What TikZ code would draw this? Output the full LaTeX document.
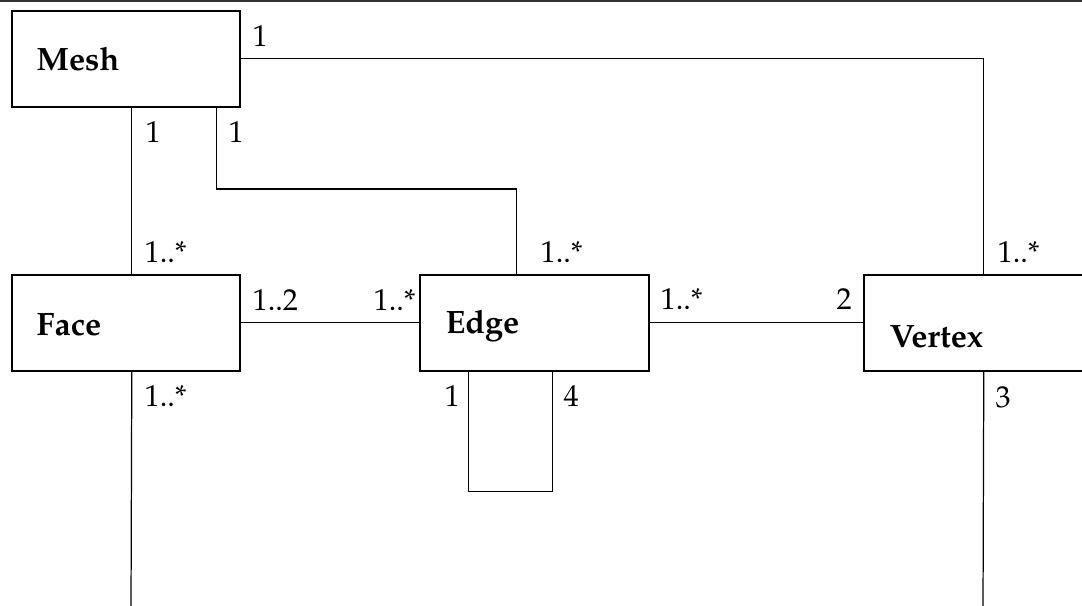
\documentclass[tikz,border=0pt]{standalone}
\usepackage[T1]{fontenc}
\usepackage{mathpazo}
\usepackage{tikz}
\usetikzlibrary{positioning}
\usepackage{xcolor}

\tikzset{
  cls/.style={draw, line width=0.45pt, rectangle, anchor=north west, inner sep=0pt,
    minimum height=0.96cm},
  clsname/.style={anchor=base west, inner sep=0pt, font=\fontsize{9.2}{11}\selectfont\bfseries},
  mult/.style={anchor=base west, inner sep=0pt, font=\fontsize{8.6}{10}\selectfont},
  assoc/.style={line width=0.35pt}
}

\begin{document}
\begin{tikzpicture}
\clip (0,0) rectangle (10.82,-6.05);
\draw[line width=0.6pt, black!80] (0,-0.01) -- (10.82,-0.01);
% classes
\node[cls, minimum width=2.28cm] (mesh) at (0.11,-0.10) {};
\node[cls, minimum width=2.28cm] (face) at (0.11,-2.74) {};
\node[cls, minimum width=2.29cm] (edge) at (4.19,-2.74) {};
\node[cls, minimum width=2.40cm] (vertex) at (8.63,-2.74) {};
\node[clsname] (meshname) at (0.36,-0.70) {Mesh};
\node[clsname] (facename) at (0.36,-3.35) {Face};
\node[clsname] (edgename) at (4.45,-3.33) {Edge};
\node[clsname] (vertexname) at (8.89,-3.47) {Vertex};
% free ends below the picture
\coordinate (faceend) at (1.31,-6.10);
\coordinate (vertexend) at (9.83,-6.10);
% associations
\draw[assoc] (mesh.east) -| (vertex.north);
\draw[assoc] ([xshift=0.06cm]mesh.south) -- ([xshift=0.06cm]face.north);
\draw[assoc] ([xshift=0.91cm]mesh.south) |- ([xshift=-0.175cm,yshift=0.85cm]edge.north)
  -- ([xshift=-0.175cm]edge.north);
\draw[assoc] (face.east) -- (edge.west);
\draw[assoc] (edge.east) -- (vertex.west);
\draw[assoc] ([xshift=-0.655cm]edge.south) -- ++(0,-1.2) -| ([xshift=0.185cm]edge.south);
\draw[assoc] ([xshift=0.06cm]face.south) -- (faceend);
\draw[assoc] (vertex.south) -- (vertexend);
% multiplicities
\node[mult] (m1) at (2.52,-0.46) {1};
\node[mult] (m2) at (1.45,-1.42) {1};
\node[mult] (m3) at (2.28,-1.42) {1};
\node[mult] (m4) at (1.44,-2.62) {1..*};
\node[mult] (m5) at (5.40,-2.62) {1..*};
\node[mult] (m6) at (9.97,-2.62) {1..*};
\node[mult] (m7) at (2.52,-3.10) {1..2};
\node[mult] (m8) at (3.73,-3.10) {1..*};
\node[mult] (m9) at (6.60,-3.09) {1..*};
\node[mult] (m10) at (8.36,-3.09) {2};
\node[mult] (m11) at (1.44,-4.06) {1..*};
\node[mult] (m12) at (4.44,-4.06) {1};
\node[mult] (m13) at (5.63,-4.06) {4};
\node[mult] (m14) at (9.95,-4.07) {3};
\end{tikzpicture}
\end{document}
